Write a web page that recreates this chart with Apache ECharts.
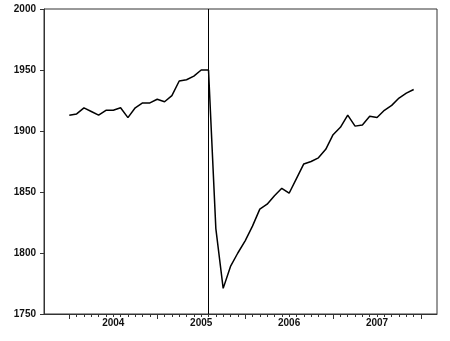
<!DOCTYPE html>
<html><head><meta charset="utf-8">
<script src="https://cdn.jsdelivr.net/npm/echarts@6/dist/echarts.min.js"></script>
<style>html,body{margin:0;padding:0;background:#fff}#c{width:450px;height:341px}</style>
</head><body><div id="c"></div>
<script>
// Monthly values, Jan 2004 .. Dec 2007
const yearLabels = ['2004', '2005', '2006', '2007'];
const v2004 = [1913, 1914, 1919, 1916, 1913, 1917, 1917, 1919, 1911, 1919, 1923, 1923];
const v2005 = [1926, 1924, 1929, 1941, 1942, 1945, 1950, 1950, 1820, 1771, 1789, 1800];
const v2006 = [1810, 1822, 1836, 1840, 1847, 1853, 1849, 1861, 1873, 1875, 1878, 1885];
const v2007 = [1897, 1903, 1913, 1904, 1905, 1912, 1911, 1917, 1921, 1927, 1931, 1934];
const eventMonth = 19; // Aug 2005
const yMin = 1750, yMax = 2000, yStep = 50;

const values = [].concat(v2004, v2005, v2006, v2007);
const data = values.map((v, i) => [i, v]);
const nMonths = yearLabels.length * 12;

const font = { fontFamily: 'Liberation Sans, Arial, sans-serif', fontSize: 10, fontWeight: 'bold', color: '#111' };
const frameColor = '#333';
const mainRect = { left: 44, right: 13, top: 9, bottom: 27 };
const tickRect = { left: 69.3, right: 29, top: 9, bottom: 27 };

const chart = echarts.init(document.getElementById('c'), null, { renderer: 'canvas' });
chart.setOption({
  animation: false,
  grid: [
    Object.assign({ show: true, borderColor: frameColor, borderWidth: 1, backgroundColor: 'transparent' }, mainRect),
    Object.assign({}, tickRect),
    Object.assign({}, tickRect)
  ],
  xAxis: [
    { gridIndex: 0, type: 'value', min: 0, max: 1, axisLine: { lineStyle: { color: frameColor } },
      axisTick: { show: false }, axisLabel: { show: false }, splitLine: { show: false } },
    { gridIndex: 1, type: 'value', min: 0, max: nMonths, interval: 12,
      axisLine: { show: false },
      axisTick: { show: true, length: 5, lineStyle: { color: frameColor, width: 1 } },
      minorTick: { show: true, splitNumber: 12, length: 3, lineStyle: { color: frameColor, width: 1 } },
      axisLabel: { show: false }, splitLine: { show: false }, minorSplitLine: { show: false } },
    { gridIndex: 2, type: 'value', min: 0, max: nMonths, interval: 6,
      axisLine: { show: false }, axisTick: { show: false }, splitLine: { show: false },
      axisLabel: Object.assign({ show: true, margin: 4, showMinLabel: false, showMaxLabel: false,
        formatter: v => (v % 12 === 6 ? yearLabels[(v - 6) / 12] : '') }, font) }
  ],
  yAxis: [
    { gridIndex: 0, type: 'value', min: yMin, max: yMax, interval: yStep,
      axisLine: { show: true, lineStyle: { color: frameColor } },
      axisTick: { show: true, length: 4, lineStyle: { color: frameColor } },
      axisLabel: Object.assign({ margin: 8, formatter: v => String(v) }, font), splitLine: { show: false } },
    { gridIndex: 1, type: 'value', min: yMin, max: yMax, show: false, splitLine: { show: false } },
    { gridIndex: 2, type: 'value', min: yMin, max: yMax, show: false, splitLine: { show: false } }
  ],
  series: [{
    type: 'line', xAxisIndex: 1, yAxisIndex: 1, data: data, showSymbol: false, symbol: 'none',
    lineStyle: { color: '#000', width: 1.5 },
    markLine: { silent: true, symbol: 'none', label: { show: false },
      lineStyle: { color: '#000', width: 1, type: 'solid' }, data: [{ xAxis: eventMonth }] }
  }]
});
</script></body></html>
